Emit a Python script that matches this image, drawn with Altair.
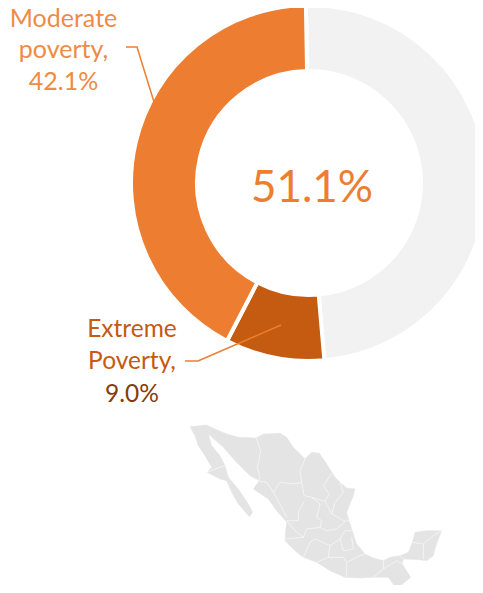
import math
import altair as alt

FONT = "Lato"

# donut
segments = ["Not in poverty", "Extreme Poverty", "Moderate poverty"]
shares = [48.9, 9.0, 42.1]
seg_order = [1, 2, 3]
seg_colors = ["#f2f2f2", "#c55a11", "#ed7d31"]

# labels
label_text = ["Moderate", "poverty,", "42.1%", "Extreme", "Poverty,", "9.0%", "51.1%"]
label_x = [63.5, 63.5, 63.5, 132, 132, 132, 312]
label_y = [27, 58, 90, 337, 369, 402, 202]
label_color = ["#f08a45", "#f08a45", "#f08a45", "#c55a11", "#c55a11", "#843c0c", "#ed7d31"]
label_size = [25, 25, 25, 24.5, 24.5, 24.5, 44]

# leader lines
lead_group = ["a", "a", "a", "b", "b", "b"]
lead_x = [126, 137, 154, 185, 198, 281]
lead_y = [47, 47, 102, 361, 361, 325]
lead_step = [0, 1, 2, 0, 1, 2]

# Mexico outline
outline = [[60,38],[110,33],[140,47],[170,60],[205,70],[258,72],[280,60],[330,58],[350,70],[370,100],[385,115],[405,135],[425,115],
[448,118],[470,150],[495,190],[510,205],[530,222],[555,225],[550,245],[540,270],[530,295],[537,320],[545,345],[560,390],[585,420],
[610,432],[640,440],[660,430],[690,425],[715,415],[727,385],[735,355],[770,350],[815,350],[805,375],[795,405],[790,425],[770,440],
[745,437],[700,435],[697,450],[722,490],[680,525],[655,490],[610,490],[570,492],[525,490],[480,470],[440,445],[400,430],[375,410],
[345,380],[347,350],[350,325],[320,290],[295,255],[250,225],[268,200],[240,185],[195,140],[160,100],[115,60],
[125,95],[150,125],[165,155],[175,190],[205,225],[235,270],[248,295],[238,308],[205,270],[185,235],[170,200],[150,195],
[112,175],[125,160],[105,125],[85,95],[75,65],[60,38]]

borders = [
 [[112,175],[135,165],[165,155]],
 [[258,72],[272,110],[262,160],[270,190],[265,200],[290,205],[310,235],[330,205],[370,210],[395,205],[402,245]],
 [[405,135],[390,170],[395,205]],
 [[310,235],[335,280],[350,310]],
 [[402,245],[425,250],[465,262],[478,240],[460,215],[485,178]],
 [[510,205],[520,235],[495,265],[485,300],[525,322],[537,320]],
 [[402,262],[385,295],[385,320],[350,320]],
 [[425,250],[450,270],[440,310],[455,320],[450,340]],
 [[465,262],[485,300]],
 [[350,320],[375,350],[400,370],[345,375]],
 [[400,370],[410,345],[450,340],[470,350],[500,345],[525,322]],
 [[400,430],[420,385],[435,375],[480,395],[475,430],[440,445]],
 [[480,395],[510,375],[525,350],[545,350]],
 [[475,430],[520,430],[530,445],[530,490]],
 [[530,445],[570,425],[585,420]],
 [[510,375],[520,410],[550,405],[545,370]],
 [[610,490],[640,465],[640,440]],
 [[640,465],[680,440],[697,450]],
 [[727,385],[760,390],[790,365],[815,350]],
 [[760,390],[760,435]],
 [[690,425],[700,435]],
]

proj = alt.Projection(type="identity", scale=1/3, translate=[162, 406])
land = alt.Chart(alt.Data(values=[{"type": "Feature", "geometry": {"type": "Polygon", "coordinates": [outline]}, "properties": {}}])).mark_geoshape(
    fill="#e4e4e4", stroke="#e4e4e4", strokeWidth=0.5).project(**proj.to_dict())
lines = alt.Chart(alt.Data(values=[{"type": "Feature", "geometry": {"type": "MultiLineString", "coordinates": borders}, "properties": {}}])).mark_geoshape(
    filled=False, stroke="#f6f6f6", strokeWidth=0.8).project(**proj.to_dict())

xs = alt.Scale(domain=[8, 475], range=[0, 467], nice=False, zero=False)
ys = alt.Scale(domain=[8, 585], range=[0, 577], nice=False, zero=False)

start = math.radians(-1)
donut = alt.Chart(alt.Data(values=[{"s": a, "v": b, "o": c} for a, b, c in zip(segments, shares, seg_order)])).mark_arc(
    radius=178, radius2=112, stroke="white", strokeWidth=4
).encode(
    theta=alt.Theta("v:Q", stack=True, scale=alt.Scale(domain=[0, 100], range=[start, start + 2 * math.pi])),
    order=alt.Order("o:O"),
    color=alt.Color("s:N", scale=alt.Scale(domain=segments, range=seg_colors), legend=None),
    x=alt.value(301), y=alt.value(175),
)

leaders = alt.Chart(alt.Data(values=[{"g": g, "x": x, "y": y, "i": i} for g, x, y, i in zip(lead_group, lead_x, lead_y, lead_step)])).mark_line(
    color="#ed7d31", strokeWidth=1.5
).encode(
    x=alt.X("x:Q", scale=xs, axis=None),
    y=alt.Y("y:Q", scale=ys, axis=None),
    detail="g:N", order="i:O",
)

texts = alt.Chart(alt.Data(values=[{"t": t, "x": x, "y": y, "c": c, "s": s} for t, x, y, c, s in zip(label_text, label_x, label_y, label_color, label_size)])).mark_text(
    font=FONT, align="center", baseline="alphabetic"
).encode(
    x=alt.X("x:Q", scale=xs, axis=None),
    y=alt.Y("y:Q", scale=ys, axis=None),
    text="t:N",
    color=alt.Color("c:N", scale=None),
    size=alt.Size("s:Q", scale=None),
)

chart = alt.layer(land, lines, donut, leaders, texts).properties(
    width=467, height=577, padding=0, autosize=alt.AutoSizeParams(type="none")
).configure_view(stroke=None)

chart.save("out.html", embed_options={"renderer": "svg", "actions": False})
